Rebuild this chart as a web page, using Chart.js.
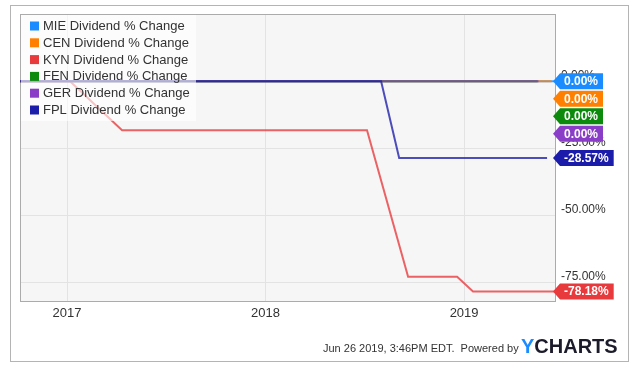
<!DOCTYPE html>
<html lang="en">
<head>
    <meta charset="UTF-8">
    <title>Dividend % Change</title>
    <style>
        body { margin: 0; background: #fff; font-family: "Liberation Sans", Arial, sans-serif; }
        .wrap { position: relative; width: 640px; height: 373px; overflow: hidden; }
        .frame { position: absolute; left: 10px; top: 5px; width: 617px; height: 355px; border: 1px solid #b4b4b4; }
        canvas { position: absolute; left: 0; top: 0; }
        .stamp { position: absolute; left: 323px; top: 342px; font-size: 11px; color: #333; white-space: nowrap; }
        .logo { position: absolute; left: 521px; top: 335px; font-size: 20px; font-weight: bold; color: #1b1b2b; letter-spacing: 0px; }
        .logo span { color: #1a8cff; }
    </style>
</head>
<body>
    <div class="wrap">
        <div class="frame"></div>
        <canvas id="chart" width="640" height="373"></canvas>
        <div class="stamp">Jun 26 2019, 3:46PM EDT.&nbsp; Powered by</div>
        <div class="logo"><span>Y</span>CHARTS</div>
    </div>

    <script src="https://cdn.jsdelivr.net/npm/chart.js"></script>
    <script>
        // x values are decimal years
        const xStart = 2016.763;
        const xEnd = 2019.463;
        const yearTicks = [2017, 2018, 2019];
        const pctTicks = [-75, -50, -25, 0];

        const mieX = [2016.763, 2019.455];
        const mieY = [0, 0];
        const cenX = [2016.763, 2019.44];
        const cenY = [0, 0];
        const kynX = [2016.763, 2017.015, 2017.277, 2018.511, 2018.718, 2018.965, 2019.045, 2019.463];
        const kynY = [0, 0, -18.18, -18.18, -72.73, -72.73, -78.18, -78.18];
        const fenX = [2016.763, 2019.37];
        const fenY = [0, 0];
        const gerX = [2016.763, 2019.375];
        const gerY = [0, 0];
        const fplX = [2016.763, 2018.582, 2018.673, 2019.418];
        const fplY = [0, 0, -28.57, -28.57];

        const names = ['MIE Dividend % Change', 'CEN Dividend % Change', 'KYN Dividend % Change',
                       'FEN Dividend % Change', 'GER Dividend % Change', 'FPL Dividend % Change'];
        const colors = ['#1a8cff', '#ff8000', '#e8393c', '#0b8a0b', '#8a3ec8', '#1c1caa'];
        const drawOrder = [5, 3, 6, 2, 1, 0];

        const xs = [mieX, cenX, kynX, fenX, gerX, fplX];
        const ys = [mieY, cenY, kynY, fenY, gerY, fplY];

        function toPoints(xArr, yArr) {
            return xArr.map((x, i) => ({ x: x, y: yArr[i] }));
        }

        function fade(hex, a) {
            const n = parseInt(hex.slice(1), 16);
            return `rgba(${n >> 16}, ${(n >> 8) & 255}, ${n & 255}, ${a})`;
        }

        const datasets = names.map((name, i) => ({
            label: name,
            data: toPoints(xs[i], ys[i]),
            borderColor: fade(colors[i], 0.78),
            borderWidth: 2,
            pointRadius: 0,
            tension: 0,
            order: drawOrder[i]
        }));

        const plotFrame = {
            id: 'plotFrame',
            beforeDraw(chart) {
                const { ctx, chartArea: a } = chart;
                ctx.save();
                ctx.fillStyle = '#f6f6f6';
                ctx.fillRect(a.left, a.top, a.right - a.left, a.bottom - a.top);
                ctx.restore();
            },
            beforeDatasetsDraw(chart) {
                const { ctx, chartArea: a } = chart;
                ctx.save();
                ctx.strokeStyle = '#ababab';
                ctx.lineWidth = 1;
                ctx.strokeRect(a.left + 0.5, a.top + 0.5, a.right - a.left - 1, a.bottom - a.top);
                ctx.restore();
            }
        };

        const overlayLegend = {
            id: 'overlayLegend',
            afterDatasetsDraw(chart) {
                const { ctx, chartArea: a } = chart;
                ctx.save();
                ctx.fillStyle = 'rgba(255, 255, 255, 0.62)';
                ctx.fillRect(a.left + 1, a.top + 1, 175, 106);
                ctx.font = '13px "Liberation Sans", Arial, sans-serif';
                ctx.textBaseline = 'middle';
                names.forEach((name, i) => {
                    const cy = 26 + i * 16.8;
                    ctx.fillStyle = colors[i];
                    ctx.fillRect(30, cy - 4.5, 9, 9);
                    ctx.fillStyle = '#333';
                    ctx.fillText(name, 43, cy + 0.5);
                });
                ctx.restore();
            }
        };

        const endBadges = {
            id: 'endBadges',
            afterDraw(chart) {
                const { ctx, chartArea: a } = chart;
                const yScale = chart.scales.y;
                const items = names.map((n, i) => {
                    const last = ys[i][ys[i].length - 1];
                    return { i: i, v: last, y: yScale.getPixelForValue(last) };
                });
                // keep legend order for equal values, stack downwards
                items.sort((p, q) => p.y - q.y || p.i - q.i);
                let prev = -Infinity;
                items.forEach(it => {
                    it.cy = Math.max(it.y, prev + 17.5);
                    prev = it.cy;
                });
                ctx.save();
                ctx.font = 'bold 12px "Liberation Sans", Arial, sans-serif';
                ctx.textBaseline = 'middle';
                items.forEach(it => {
                    const text = it.v.toFixed(2) + '%';
                    const tip = a.right - 3;
                    const w = ctx.measureText(text).width;
                    const right = tip + 7 + w + 9;
                    const h = 8;
                    ctx.fillStyle = colors[it.i];
                    ctx.beginPath();
                    ctx.moveTo(tip, it.cy);
                    ctx.lineTo(tip + 7, it.cy - h);
                    ctx.lineTo(right, it.cy - h);
                    ctx.lineTo(right, it.cy + h);
                    ctx.lineTo(tip + 7, it.cy + h);
                    ctx.closePath();
                    ctx.fill();
                    ctx.fillStyle = '#fff';
                    ctx.fillText(text, tip + 11, it.cy + 0.5);
                });
                ctx.restore();
            }
        };

        new Chart(document.getElementById('chart'), {
            type: 'line',
            data: { datasets: datasets },
            plugins: [plotFrame, overlayLegend, endBadges],
            options: {
                responsive: false,
                animation: false,
                layout: { padding: { left: 20, top: 14, right: 0, bottom: 0 } },
                plugins: { legend: { display: false }, tooltip: { enabled: false } },
                scales: {
                    x: {
                        type: 'linear',
                        min: xStart,
                        max: xEnd,
                        afterBuildTicks: s => { s.ticks = yearTicks.map(v => ({ value: v })); },
                        afterFit: s => { s.height = 72; },
                        grid: { color: '#e3e3e3', drawTicks: false },
                        border: { display: false },
                        ticks: {
                            padding: 5,
                            color: '#333',
                            font: { size: 13, family: '"Liberation Sans", Arial, sans-serif' },
                            callback: v => String(v)
                        }
                    },
                    y: {
                        position: 'right',
                        min: -81.7,
                        max: 25,
                        afterBuildTicks: s => { s.ticks = pctTicks.map(v => ({ value: v })); },
                        afterFit: s => { s.width = 84; },
                        grid: { color: '#e3e3e3', drawTicks: false },
                        border: { display: false },
                        ticks: {
                            padding: 5,
                            labelOffset: -6,
                            color: '#333',
                            font: { size: 12, family: '"Liberation Sans", Arial, sans-serif' },
                            callback: v => v.toFixed(2) + '%'
                        }
                    }
                }
            }
        });
    </script>
</body>
</html>
